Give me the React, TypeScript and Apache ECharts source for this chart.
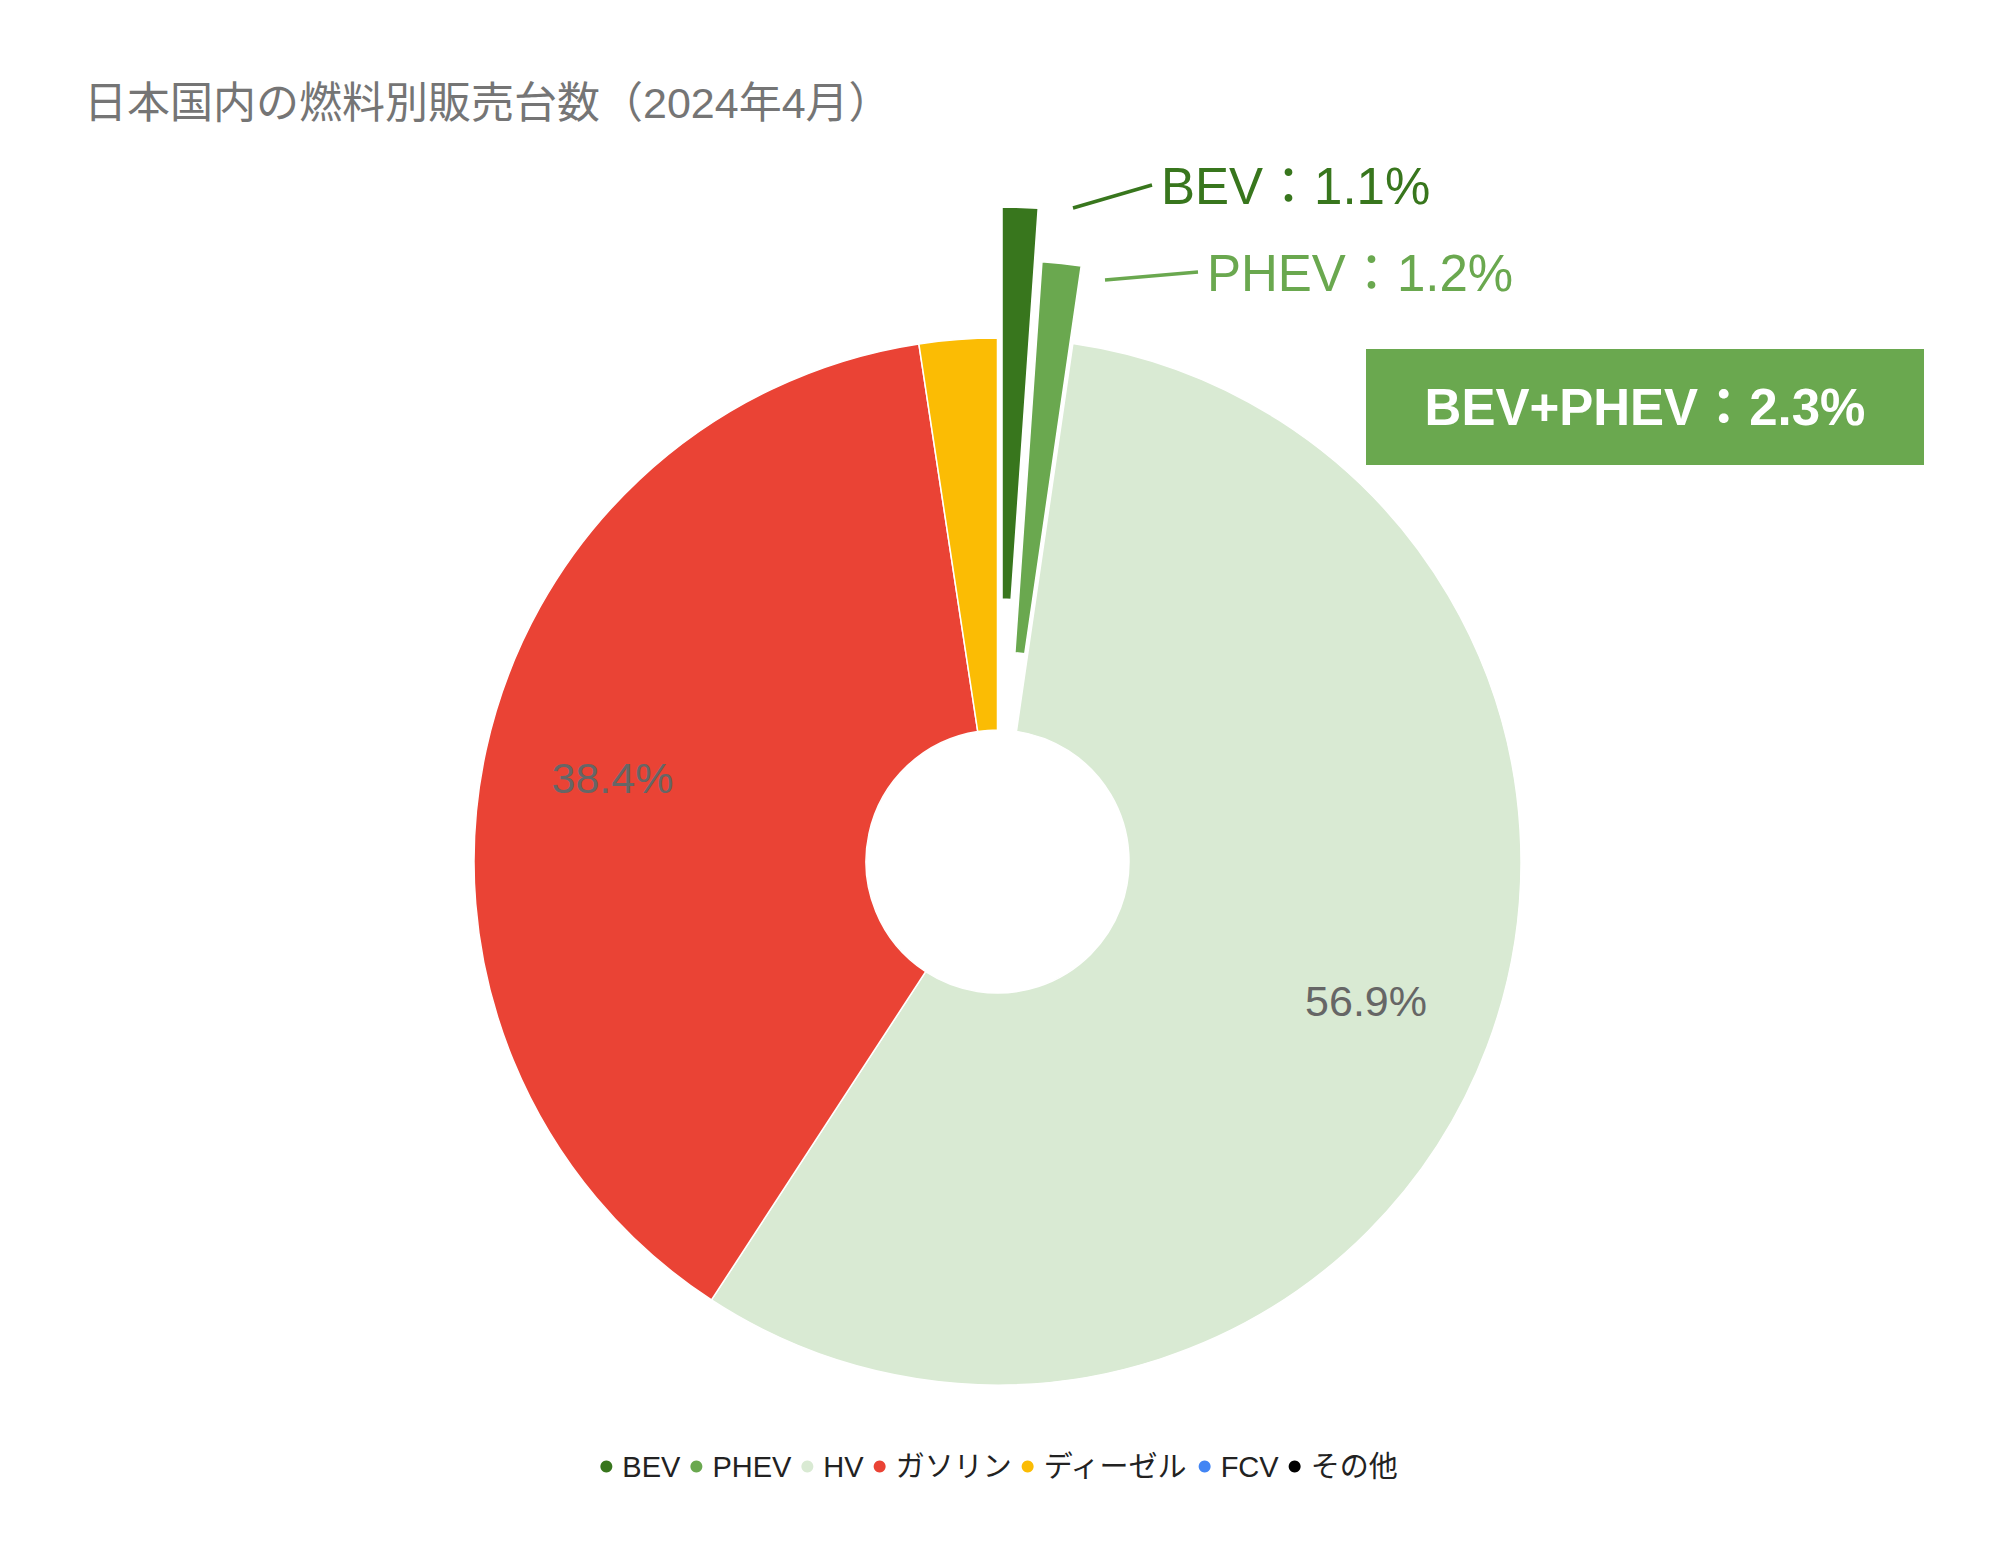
import React, { useEffect, useRef } from 'react';
import * as echarts from 'echarts';

// ---------- data ----------
const TITLE = '日本国内の燃料別販売台数（2024年4月）';
const categories = ['BEV', 'PHEV', 'HV', 'ガソリン', 'ディーゼル', 'FCV', 'その他'];
const shares = [1.1, 1.2, 56.9, 38.4, 2.4, 0.0, 0.0];
const colors = ['#38761d', '#6aa84f', '#d9ead3', '#ea4335', '#fbbc04', '#4285f4', '#000000'];
const explodedNames = ['BEV', 'PHEV'];
const insideLabelNames = ['HV', 'ガソリン'];
const comboNames = ['BEV', 'PHEV'];

// ---------- layout ----------
const W = 1998;
const H = 1567;
const CX = 997.5;
const CY = 861.5;
const R0 = 131.5;
const R = 523.5;
const LABEL_R0 = 258.5; // invisible ring so that inside labels sit at ~0.75 R
const EXPLODE: Record<string, number> = { BEV: 131, PHEV: 78 };
const LABEL_ANCHOR: Record<string, number[]> = { BEV: [1161, 186], PHEV: [1207, 273] };
const LINE_VEC: Record<string, number[]> = { BEV: [-79, 23], PHEV: [-93, 8] };
const FONT = "'Liberation Sans', Arial, 'Noto Sans CJK JP', sans-serif";
const TRANSPARENT = 'rgba(0,0,0,0)';

const total = shares.reduce((a, b) => a + b, 0);
function midAngleDeg(i: number) {
  let cum = 0;
  for (let j = 0; j < i; j++) cum += shares[j];
  return 90 - ((cum + shares[i] / 2) / total) * 360;
}

function baseData(visible: (name: string) => boolean, labelShow: (name: string) => boolean) {
  return categories.map((name, i) => {
    const vis = visible(name);
    return {
      name,
      value: shares[i],
      itemStyle: {
        color: vis ? colors[i] : TRANSPARENT,
        borderWidth: vis && shares[i] > 0 ? 1.5 : 0,
        borderColor: '#ffffff',
      },
      label: { show: labelShow(name) },
      labelLine: { show: labelShow(name) },
    };
  });
}

function explodedSeries(name: string) {
  const i = categories.indexOf(name);
  const a = (midAngleDeg(i) * Math.PI) / 180;
  const off = EXPLODE[name];
  const [lx, ly] = LABEL_ANCHOR[name];
  const [vx, vy] = LINE_VEC[name];
  const ex = lx - 9;
  const ey = ly - 1;
  return {
    type: 'pie',
    name: name + '-exploded',
    center: [CX + off * Math.cos(a), CY - off * Math.sin(a)],
    radius: [R0, R],
    startAngle: 90,
    clockwise: true,
    avoidLabelOverlap: false,
    emphasis: { disabled: true },
    z: 3,
    label: {
      position: 'outside',
      color: colors[i],
      fontSize: 51,
      fontFamily: FONT,
      formatter: (p: any) => `${p.name}：${Number(p.value).toFixed(1)}%`,
    },
    labelLine: {
      show: true,
      lineStyle: { color: colors[i], width: 3.4 },
      length: 20,
      length2: 20,
    },
    labelLayout: (params: any) => {
      if (params.dataIndex !== i) return {};
      return {
        x: lx,
        y: ly,
        align: 'left',
        verticalAlign: 'middle',
        labelLinePoints: [
          [ex + vx, ey + vy],
          [ex + vx / 2, ey + vy / 2],
          [ex, ey],
        ],
      };
    },
    data: baseData((n) => n === name, (n) => n === name),
  };
}

export default function App() {
  const ref = useRef<HTMLDivElement>(null);

  useEffect(() => {
    if (!ref.current) return;
    const chart = echarts.init(ref.current, undefined, { renderer: 'svg', width: W, height: H });

    const comboValue = comboNames
      .map((n) => shares[categories.indexOf(n)])
      .reduce((a, b) => a + b, 0);

    const option: any = {
      animation: false,
      backgroundColor: '#ffffff',
      title: {
        text: TITLE,
        left: 84,
        top: 81,
        padding: 0,
        textStyle: {
          fontSize: 43,
          fontWeight: 'normal',
          color: '#757575',
          fontFamily: FONT,
        },
      },
      legend: {
        left: 'center',
        top: 1452,
        icon: 'circle',
        itemWidth: 22,
        itemHeight: 12,
        itemGap: 10,
        padding: 0,
        itemStyle: { borderWidth: 0 },
        textStyle: { fontSize: 29, color: '#222222', fontFamily: FONT },
        data: categories.map((n, i) => ({ name: n, itemStyle: { color: colors[i], borderWidth: 0 } })),
      },
      graphic: [
        {
          type: 'group',
          left: 1366,
          top: 349,
          children: [
            {
              type: 'rect',
              shape: { x: 0, y: 0, width: 558, height: 116 },
              style: { fill: '#6aa84f' },
            },
            {
              type: 'text',
              x: 279,
              y: 58,
              style: {
                text: `${comboNames.join('+')}：${comboValue.toFixed(1)}%`,
                fill: '#ffffff',
                fontSize: 51,
                fontWeight: 'bold',
                fontFamily: FONT,
                align: 'center',
                verticalAlign: 'middle',
              },
            },
          ],
        },
      ],
      series: [
        {
          type: 'pie',
          name: 'main',
          center: [CX, CY],
          radius: [R0, R],
          startAngle: 90,
          clockwise: true,
          avoidLabelOverlap: false,
          emphasis: { disabled: true },
          z: 2,
          label: { show: false },
          labelLine: { show: false },
          data: baseData((n) => !explodedNames.includes(n), () => false),
        },
        ...explodedNames.map((n) => explodedSeries(n)),
        {
          type: 'pie',
          name: 'labels',
          center: [CX, CY],
          radius: [LABEL_R0, R],
          startAngle: 90,
          clockwise: true,
          silent: true,
          avoidLabelOverlap: false,
          emphasis: { disabled: true },
          z: 4,
          label: {
            position: 'inside',
            color: '#666666',
            fontSize: 43,
            fontFamily: FONT,
            formatter: (p: any) => `${Number(p.value).toFixed(1)}%`,
          },
          labelLine: { show: false },
          data: baseData(() => false, (n) => insideLabelNames.includes(n)),
        },
      ],
    };

    chart.setOption(option);
    return () => chart.dispose();
  }, []);

  return (
    <div
      ref={ref}
      style={{ position: 'fixed', left: 0, top: 0, width: W, height: H, background: '#fff' }}
    />
  );
}
